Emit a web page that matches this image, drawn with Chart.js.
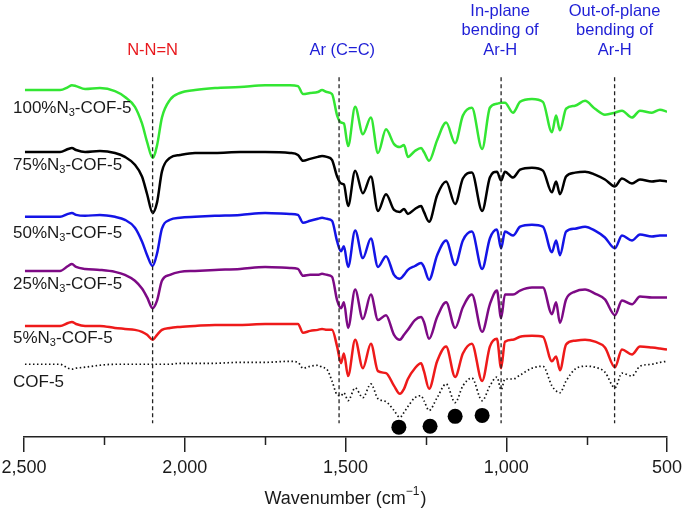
<!DOCTYPE html>
<html>
<head>
<meta charset="utf-8">
<script src="https://cdn.jsdelivr.net/npm/chart.js@4.4.1/dist/chart.umd.min.js"></script>
<style>
  html, body { margin: 0; padding: 0; background: #fff; }
  #wrap { width: 685px; height: 512px; }
</style>
</head>
<body>
<div id="wrap"><canvas id="irChart" width="685" height="512"></canvas></div>
<script>
// wavenumber grid shared by all spectra (cm-1)
const wavenumbers = [2497,2435,2388,2363,2351,2338,2310,2264,2217,2186,2155,2133,2117,2100,2086,2071,2046,2015,1968,1906,
  1828,1750,1673,1648,1632,1610,1586,1573,1558,1542,1526,1514,1505,1492,1470,1446,1421,1399,1374,1349,
  1331,1318,1306,1284,1265,1256,1240,1215,1187,1159,1135,1107,1075,1051,1029,1016,1004,979,957,920,
  886,858,845,833,814,786,755,724,693,662,640,609,584,547,522,500];

// offset transmittance (a.u.), one array per sample
const n3_100 = [353,353,353,356,358,357,354,355,352,346, 336,319,300,284,297,325,343,350,353,355,
  356,358,358,357,349,350,351,353,351,349, 327,320,319,296,336,308,325,289,313,298,
  295,297,285,291,294,290,281,302,320,299, 327,335,293,335,339,340,340,330,341,344,
  341,310,327,312,334,337,342,334,328,330, 332,325,332,330,333,331];
const n3_75 = [290,290,290,293,294,292,290,291,289,285, 277,265,247,228,239,270,284,287,289,289,
  290,290,289,287,281,283,285,286,285,282, 265,258,257,235,271,248,265,230,247,231,
  229,232,227,232,235,229,219,246,260,237, 263,269,230,264,270,261,270,264,272,274,
  271,249,260,247,265,269,270,267,262,255, 263,258,262,260,261,260];
const n3_50 = [224,224,224,227,228,226,225,226,224,221, 213,199,185,174,187,212,221,223,224,225,
  226,228,227,226,218,220,222,223,222,220, 199,189,194,173,210,182,202,173,184,165,
  161,165,170,174,177,173,160,185,200,175, 200,209,171,202,211,192,209,205,214,216,
  214,188,200,185,209,212,214,210,203,192, 205,200,206,204,205,205];
const n3_25 = [169,169,169,174,176,173,171,170,168,165, 159,151,142,131,139,159,165,168,169,170,
  171,173,172,171,164,165,165,166,165,163, 139,131,137,111,150,120,145,119,124,104,
  99,104,109,119,122,117,100,122,137,111, 132,145,107,135,149,121,145,145,149,152,
  152,125,137,116,140,148,150,146,140,124, 139,135,143,142,142,142];
const n3_5 = [113,113,113,116,117,115,113,113,111,110, 109,107,104,99,104,109,111,112,113,114,
  114,115,115,115,106,108,109,110,109,109, 92,75,85,62,99,70,95,67,65,52,
  44,49,59,70,75,67,49,77,92,61, 85,95,57,92,100,70,97,99,102,103,
  102,77,82,68,94,98,99,97,91,71, 89,84,92,91,90,89];
const cof5 = [74,74,74,70,69,70,71,73,74,74, 74,74,74,74,74,74,74,75,75,75,
  76,76,77,76,70,72,73,71,69,57, 43,42,45,37,50,40,54,39,36,27,
  20,25,31,40,42,37,27,40,54,35, 52,60,37,52,61,48,59,59,63,70,
  72,52,47,45,57,69,72,71,66,50, 65,62,72,74,76,77];

// band assignments (dashed guides) and marked COF-5 bands
const bandLines = [2100, 1520, 1016, 663];
const bandTop = 366, bandBottom = 14;
const dotWavenumbers = [1334, 1237, 1159, 1075];
const dotLevels = [10, 11, 21, 22];

const sampleNames = ['100%', '75%', '50%', '25%', '5%', ''];
const tickValues = [2500, 2000, 1500, 1000, 500];

const FONT = "'Liberation Sans', Arial, Helvetica, sans-serif";

function toPoints(ys){
  return wavenumbers.map((w,i)=>({x:w, y:ys[i]}));
}

function traceSet(ys, color, dotted){
  return {
    data: toPoints(ys),
    borderColor: color,
    borderWidth: dotted ? 1.7 : 2.5,
    borderDash: dotted ? [1.5, 2.5] : [],
    pointRadius: 0,
    cubicInterpolationMode: 'monotone',
    order: 2
  };
}

const datasets = [
  traceSet(n3_100, '#33e633'),
  traceSet(n3_75, '#000000'),
  traceSet(n3_50, '#1414e6'),
  traceSet(n3_25, '#7d0a85'),
  traceSet(n3_5, '#ee1a1a'),
  traceSet(cof5, '#111111', true)
];

bandLines.forEach(w=>{
  datasets.push({
    data:[{x:w,y:bandTop},{x:w,y:bandBottom}],
    borderColor:'#222',
    borderWidth:1.3,
    borderDash:[4,3],
    pointRadius:0,
    order:1
  });
});

datasets.push({
  type:'scatter',
  data: dotWavenumbers.map((w,i)=>({x:w, y:dotLevels[i]})),
  pointRadius:7.5,
  pointBackgroundColor:'#000',
  pointBorderWidth:0,
  order:0
});

// labels, annotations, minor ticks and axis title
const textPlugin = {
  id:'irText',
  afterDraw(chart){
    const ctx = chart.ctx;
    const xs = chart.scales.x;
    ctx.save();
    ctx.textBaseline = 'middle';

    // sample labels
    const labelY = [108, 165, 233, 284, 338, 382];
    ctx.fillStyle = '#1a1a1a';
    sampleNames.forEach((p,i)=>{
      let x = 13;
      ctx.font = '17px ' + FONT;
      ctx.textAlign = 'left';
      if (p === '') {
        ctx.fillText('COF-5', x, labelY[i]);
        return;
      }
      const a = p + 'N';
      ctx.fillText(a, x, labelY[i]);
      x += ctx.measureText(a).width;
      ctx.font = '11px ' + FONT;
      ctx.fillText('3', x, labelY[i] + 5);
      x += ctx.measureText('3').width;
      ctx.font = '17px ' + FONT;
      ctx.fillText('-COF-5', x, labelY[i]);
    });

    // band annotations
    ctx.textAlign = 'center';
    ctx.font = '16.5px ' + FONT;
    ctx.fillStyle = '#e8191e';
    ctx.fillText('N-N=N', xs.getPixelForValue(2100), 50);
    ctx.fillStyle = '#1f1fd6';
    ctx.fillText('Ar (C=C)', xs.getPixelForValue(1510), 50);
    ['In-plane','bending of','Ar-H'].forEach((t,i)=>{
      ctx.fillText(t, xs.getPixelForValue(1019), 11 + i*19.5);
    });
    ['Out-of-plane','bending of','Ar-H'].forEach((t,i)=>{
      ctx.fillText(t, xs.getPixelForValue(663), 11 + i*19.5);
    });

    // minor ticks
    const yAxis = chart.chartArea.bottom;
    ctx.strokeStyle = '#222';
    ctx.lineWidth = 1.5;
    [2250, 1750, 1250, 750].forEach(w=>{
      const px = Math.round(xs.getPixelForValue(w)) + 0.5;
      ctx.beginPath();
      ctx.moveTo(px, yAxis);
      ctx.lineTo(px, yAxis + 8);
      ctx.stroke();
    });

    // axis title with superscript
    ctx.fillStyle = '#1a1a1a';
    ctx.textAlign = 'left';
    const big = '18px ' + FONT, small = '12px ' + FONT;
    ctx.font = big;
    const p1 = 'Wavenumber (cm', p3 = ')';
    const w1 = ctx.measureText(p1).width, w3 = ctx.measureText(p3).width;
    ctx.font = small;
    const p2 = '\u22121';
    const w2 = ctx.measureText(p2).width + 1;
    let tx = (chart.chartArea.left + chart.chartArea.right)/2 - (w1+w2+w3)/2;
    const ty = 499;
    ctx.font = big;
    ctx.fillText(p1, tx, ty);
    tx += w1;
    ctx.font = small;
    ctx.fillText(p2, tx, ty - 7);
    tx += w2;
    ctx.font = big;
    ctx.fillText(p3, tx, ty);
    ctx.restore();
  }
};

new Chart(document.getElementById('irChart'), {
  type:'line',
  data:{ datasets },
  options:{
    responsive:false,
    animation:false,
    layout:{ padding:{ left:24, right:18, top:0, bottom:0 } },
    plugins:{ legend:{display:false}, tooltip:{enabled:false} },
    scales:{
      x:{
        type:'linear',
        reverse:true,
        min:500, max:2500,
        afterFit(scale){
          scale.height = 75;
          scale.paddingLeft = 0;
          scale.paddingRight = 0;
        },
        border:{ display:true, color:'#222', width:1.5 },
        grid:{
          drawOnChartArea:false,
          drawTicks:true,
          tickLength:15,
          lineWidth:1.5,
          color:(c)=> (c.tick && tickValues.includes(c.tick.value)) ? '#222' : 'rgba(0,0,0,0)'
        },
        ticks:{
          stepSize:250,
          autoSkip:false,
          maxRotation:0,
          padding:5,
          color:'#1a1a1a',
          font:{ family:FONT, size:18 },
          callback:(v)=> tickValues.includes(v) ? v.toLocaleString('en-US') : ''
        }
      },
      y:{ display:false, min:0, max:437 }
    }
  },
  plugins:[textPlugin]
});
</script>
</body>
</html>
